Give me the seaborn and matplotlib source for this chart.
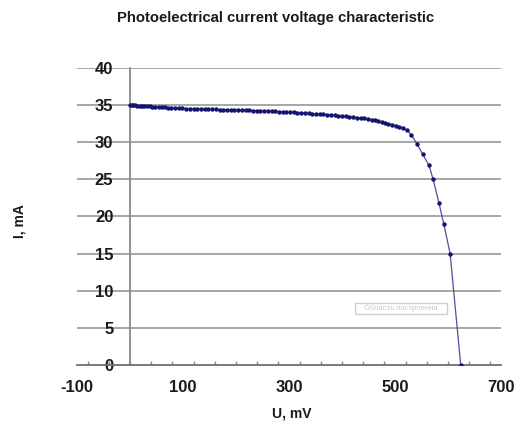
import matplotlib
matplotlib.use("Agg")
import matplotlib.pyplot as plt
import seaborn as sns
import pandas as pd
from matplotlib.ticker import MultipleLocator, FixedLocator
from matplotlib.patches import FancyBboxPatch

voltage_mv = [0, 3, 6, 10, 14, 18, 22, 27, 32, 37, 42, 48, 54, 60, 66, 72, 78, 85, 92, 99,
              106, 113, 120, 127, 134, 141, 148, 155, 162, 169, 176, 183, 190, 197, 204, 211,
              218, 225, 232, 239, 246, 253, 260, 267, 274, 281, 288, 295, 302, 309, 316, 323,
              330, 337, 344, 351, 358, 365, 372, 379, 386, 393, 400, 407, 414, 421, 428, 435,
              442, 449, 456, 462, 468, 475, 481, 487, 495, 502, 508, 516, 522, 531, 542, 552,
              564, 572, 583, 592, 604, 624]
current_ma = [35.00, 34.99, 34.97, 34.95, 34.93, 34.91, 34.89, 34.87, 34.85, 34.83, 34.80,
              34.78, 34.75, 34.72, 34.69, 34.67, 34.64, 34.61, 34.58, 34.55, 34.53, 34.52,
              34.50, 34.49, 34.47, 34.46, 34.45, 34.43, 34.42, 34.40, 34.39, 34.37, 34.36,
              34.35, 34.33, 34.32, 34.30, 34.28, 34.27, 34.25, 34.23, 34.21, 34.19, 34.17,
              34.15, 34.12, 34.10, 34.07, 34.05, 34.02, 33.99, 33.96, 33.93, 33.90, 33.87,
              33.84, 33.80, 33.76, 33.72, 33.68, 33.63, 33.58, 33.53, 33.48, 33.43, 33.38,
              33.32, 33.26, 33.20, 33.13, 33.04, 32.95, 32.85, 32.72, 32.62, 32.50, 32.38,
              32.25, 32.10, 31.90, 31.65, 31.00, 29.70, 28.40, 26.90, 25.00, 21.80, 19.00,
              15.00, 0.00]

x_ticks = [-100, 100, 300, 500, 700]
y_ticks = [0, 5, 10, 15, 20, 25, 30, 35, 40]

title_text = "Photoelectrical current voltage characteristic"
x_label = "U, mV"
y_label = "I, mA"

df = pd.DataFrame({"U": voltage_mv, "I": current_ma})

sns.set_theme(style="white")
plt.rcParams["font.family"] = ["Liberation Sans", "DejaVu Sans"]
plt.rcParams["axes.unicode_minus"] = False

fig = plt.figure(figsize=(5.18, 4.25), dpi=100)
ax = fig.add_axes([77 / 518, 60 / 425, 424 / 518, 297 / 425])

grid_color = "#a6a6a6"
for y in y_ticks[1:]:
    ax.axhline(y, color=grid_color, lw=1.4, zorder=0)

sns.lineplot(data=df, x="U", y="I", ax=ax, color="#4e4ea6", lw=0.9, zorder=3,
             marker="o", markersize=3.2, markerfacecolor="#14146e",
             markeredgecolor="#14146e", markeredgewidth=0)
ax.set_xlabel("")
ax.set_ylabel("")

ax.set_xlim(-100, 700)
ax.set_ylim(0, 40)

for s in ["top", "right"]:
    ax.spines[s].set_visible(False)
ax.spines["left"].set_position(("data", 0))
ax.spines["left"].set_color("#8a8a8a")
ax.spines["left"].set_linewidth(1.3)
ax.spines["left"].set_zorder(1)
ax.spines["bottom"].set_color("#6e6e6e")
ax.spines["bottom"].set_linewidth(1.3)

ax.xaxis.set_major_locator(FixedLocator(x_ticks))
ax.xaxis.set_minor_locator(MultipleLocator(40))
ax.yaxis.set_major_locator(FixedLocator(y_ticks))
ax.tick_params(axis="x", which="major", direction="inout", length=9, width=1.2,
               color="#6e6e6e", pad=6, labelsize=12)
ax.tick_params(axis="x", which="minor", direction="in", length=3, width=1.0,
               color="#8a8a8a", bottom=True)
ax.tick_params(axis="y", which="major", length=0, pad=12, labelsize=12)
for lbl in ax.get_xticklabels() + ax.get_yticklabels():
    lbl.set_fontweight("bold")
    lbl.set_color("#1a1a1a")

fig.text(276 / 518, 0.957, title_text, ha="center", va="center", fontsize=10.7,
         fontweight="bold", color="#1a1a1a")
fig.text(292 / 518, 1 - 413 / 425, x_label, ha="center", va="center", fontsize=10,
         fontweight="bold", color="#1a1a1a")
fig.text(20 / 518, 1 - 221 / 425, y_label, ha="center", va="center", fontsize=10,
         fontweight="bold", color="#1a1a1a", rotation=90)

# faint tooltip box
box = FancyBboxPatch((355 / 518, 1 - 314 / 425), 92 / 518, 11 / 425,
                     boxstyle="square,pad=0", transform=fig.transFigure,
                     facecolor="white", edgecolor="#cfcfcf", lw=1.0, zorder=5)
fig.patches.append(box)
fig.text(401 / 518, 1 - 308 / 425, "Область построения", ha="center", va="center",
         fontsize=5.5, color="#c8c8c8", zorder=6)

fig.savefig("out.png", dpi=100)
